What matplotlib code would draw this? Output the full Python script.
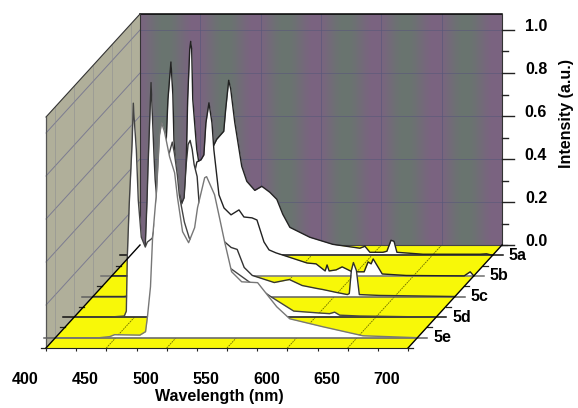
import numpy as np
import matplotlib
matplotlib.use("Agg")
import matplotlib.pyplot as plt
from matplotlib.patches import Polygon
from matplotlib.transforms import Affine2D, IdentityTransform

plt.rcParams['font.family'] = ['Liberation Sans', 'DejaVu Sans']
plt.rcParams['font.weight'] = 'bold'

# spectra
wl_5a = [400, 430, 441, 444.8, 445.6, 447.3, 449, 449.8, 450.6, 451.5, 454.8, 456.4, 461.4, 467.2, 471.4, 477.2,
         478.8, 481.3, 483, 486.3, 492.1, 496.3, 502.9, 508.7, 515.4, 521.2, 526.1, 532, 548.5, 567.6, 590, 594.2,
         598.3, 609.1, 612.4, 615.8, 618.3, 620.7, 642.3, 689.6, 695, 700]
int_5a = [0, 0, .02, .144, .307, .726, .958, .995, .958, .726, .493, .437, .4, .493, .54, .577,
          .679, .814, .772, .619, .414, .344, .302, .321, .293, .26, .191, .13, .084, .051, .033, .042,
          .014, .014, .019, .07, .065, .014, .005, .005, .007, 0]
wl_5b = [400, 430.7, 439, 442.3, 444.8, 446.5, 449, 450.6, 451.5, 454, 459.8, 465.6, 470.5, 473.9, 476.3, 478,
         480.5, 483, 484.6, 488.8, 493, 498.8, 505.4, 509.5, 516.2, 520.3, 526.1, 530.3, 536.1, 541.1, 561.8, 569.3,
         576.8, 578.4, 580.1, 585.9, 590.9, 599.2, 609.1, 612.4, 614.9, 616.6, 624.1, 644, 692, 697, 700]
int_5b = [0, 0, .005, .353, .586, .819, .995, .842, .633, .423, .298, .4, .53, .54, .563, .712,
          .805, .712, .586, .377, .316, .284, .307, .274, .27, .26, .158, .121, .107, .098, .06, .056,
          .023, .051, .023, .028, .042, .019, .019, .065, .056, .079, .009, .002, 0, .019, 0]
wl_5c = [400, 425.7, 438, 443.2, 444.8, 445.6, 447.3, 448.1, 449, 450.6, 451.5, 454.8, 458.9, 463, 469.7, 475.5,
         477.2, 478.8, 480.5, 482.2, 483.8, 486.3, 488, 492.1, 497.9, 508.7, 514.5, 519.5, 525.3, 532, 550.2, 562.7,
         573.4, 585.9, 590, 601.7, 610.8, 612.4, 614.1, 615.8, 618.3, 620.7, 637.3, 700]
int_5c = [0, 0, .01, .219, .451, .605, .87, .995, .87, .651, .544, .335, .242, .288, .381, .46,
          .614, .707, .726, .684, .614, .558, .428, .395, .335, .256, .228, .219, .135, .098, .065, .079,
          .051, .037, .033, .019, .009, .014, .121, .158, .121, .009, .005, 0]
wl_5d = [400, 429, 441.5, 443.2, 444, 445.6, 448.1, 449, 449.8, 451.5, 453.1, 455.6, 458.9, 460.6, 464.7, 470.5,
         475.5, 478.8, 481.3, 483, 485.5, 487.1, 491.3, 495.4, 507.9, 524.5, 545.2, 563.5, 581.9, 603.3, 611.6, 615.8,
         620, 636.5, 700]
int_5d = [0, 0, .005, .028, .279, .526, .823, .995, .916, .777, .544, .372, .326, .349, .367, .521,
          .707, .763, .814, .763, .66, .567, .442, .367, .321, .247, .163, .093, .028, .019, .016, .023,
          .009, .005, 0]
wl_5e = [400, 436.5, 445, 449, 470, 474.7, 476.3, 478.8, 480.5, 483.8, 486.3, 488, 490.4, 494.6, 498.8, 501.2,
         505.4, 510.4, 515.4, 517.8, 523.7, 525.3, 531.9, 536, 540.2, 546, 554.4, 567.6, 583.4, 594.2, 621.6, 654.8, 700]
int_5e = [0, 0, .005, .014, .012, .028, .098, .237, .46, .68, .944, 1, .958, .842, .767, .651,
          .493, .442, .512, .605, .744, .749, .665, .558, .447, .307, .26, .256, .144, .088, .051, .009, 0]

series_names = ['5a', '5b', '5c', '5d', '5e']
x_major = [400, 450, 500, 550, 600, 650, 700]
x_minor = [425, 475, 525, 575, 625, 675]
z_major = [0.0, 0.2, 0.4, 0.6, 0.8, 1.0]
z_minor = [0.1, 0.3, 0.5, 0.7, 0.9]

W, H = 578, 408
# front floor corner (46,348), 362 px for 300 nm, 215 px per intensity unit
fig = plt.figure(figsize=(W/100, H/100), dpi=100)
ax = fig.add_axes([46/W, (H-348)/H, 362/W, 215/H])
ax.patch.set_visible(False)

PX_NM = 362/300
DW = 94/PX_NM   # depth shift in nm
DH = 103/215    # depth shift in intensity
TOP = 1.0744

def proj(w, h, d):
  return np.asarray(w) + d*DW, np.asarray(h) + d*DH

def corners(pts):
  return np.array([proj(*p) for p in pts])

back = [(400, 0, 1), (700, 0, 1), (700, TOP, 1), (400, TOP, 1)]
left = [(400, 0, 0), (400, 0, 1), (400, TOP, 1), (400, TOP, 0)]
floor = [(400, 0, 0), (700, 0, 0), (700, 0, 1), (400, 0, 1)]

# back wall: the gif dither shows as slow magenta/green columns
xx = np.arange(W)
s = np.sin(2*np.pi*xx/60.0)*0.035
base = np.array(matplotlib.colors.to_rgb('#726c78'))
img = np.tile((base + np.c_[s, -s, s])[None, :, :], (H, 1, 1))
im = ax.imshow(np.clip(img, 0, 1), extent=(0, W, 0, H), transform=IdentityTransform(), aspect='auto',
               interpolation='nearest', zorder=1, origin='lower')
im.set_clip_box(fig.bbox)
im.set_clip_path(Polygon(corners(back), transform=ax.transData))
ax.add_patch(Polygon(corners(left), facecolor='#b0af9a', edgecolor='none', zorder=1, clip_on=False))
ax.add_patch(Polygon(corners(floor), facecolor='#f8f808', edgecolor='none', zorder=1, clip_on=False))

# wall grid
for w in x_major[1:-1]:
  ax.plot(*proj([w, w], [0, TOP], 1), color='#55557a', lw=0.7, alpha=0.6, zorder=2, clip_on=False)
  ax.plot(*proj([w, w], [0, 0], np.array([0, 1])), color='#6b6b00', lw=0.6, ls=(0, (2, 1)), zorder=2, clip_on=False)
for h in z_major[1:]:
  ax.plot(*proj([400, 700], [h, h], 1), color='#58587a', lw=0.7, alpha=0.6, zorder=2, clip_on=False)
  ax.plot(*proj([400, 400], [h, h], np.array([0, 1])), color='#66668c', lw=0.7, alpha=0.7, zorder=2, clip_on=False)
for d in [.1, .3, .5, .7, .9]:
  ax.plot(*proj([400, 400], [0, TOP], d), color='#8a8a90', lw=0.7, alpha=0.5, zorder=2, clip_on=False)

# frame
frame_kw = dict(color='#333333', lw=0.8, zorder=3, clip_on=False)
ax.plot(*proj([400, 700], [TOP, TOP], 1), color='black', lw=1.1, zorder=3, clip_on=False)
ax.plot(*proj([400, 400], [TOP, TOP], np.array([0, 1])), **frame_kw)
ax.plot(*proj([400, 400], [0, TOP], 1), **frame_kw)
ax.plot(*proj([400, 400], [0, TOP], 0), color='#555555', lw=0.9, zorder=3, clip_on=False)
ax.plot(*proj([700, 700], [0, TOP], 1), **frame_kw)

# spectra, back to front
wls = [wl_5a, wl_5b, wl_5c, wl_5d, wl_5e]
ints = [int_5a, int_5b, int_5c, int_5d, int_5e]
depths = [.9, .7, .5, .3, .1]
line_cols = ['#222222', '#222222', '#333333', '#444444', '#777777']
base_cols = ['#111111', '#707070', '#606060', '#111111', '#606060']
for i, name in enumerate(series_names):
  d = depths[i]
  xs, ys = proj(wls[i], ints[i], d)
  _, y0 = proj(400, 0, d)
  ax.fill_between(xs, y0, ys, color='white', lw=0, zorder=4+i, clip_on=False)
  # baseline runs past both floor edges as the depth tick
  ax.plot(*proj(np.array([400-11/PX_NM, 700+10/PX_NM]), [0, 0], d), color=base_cols[i], lw=1.1,
          zorder=4+i, clip_on=False)
  ax.plot(xs, ys, color=line_cols[i], lw=1.0, zorder=4+i, clip_on=False)
  tx, ty = proj(700 + 16/PX_NM, 0, d)
  ax.text(tx, ty, name, fontsize=11.5, va='center', ha='left', zorder=12, clip_on=False)

for d in [0, .2, .4, .6, .8, 1.0]:
  ax.plot(*proj(np.array([400-5/PX_NM, 400]), [0, 0], d), color='#222222', lw=0.9, zorder=3, clip_on=False)
  ax.plot(*proj(np.array([700, 700+5/PX_NM]), [0, 0], d), color='#222222', lw=0.9, zorder=3, clip_on=False)

# floor edges on top
ax.plot(*proj([400, 400], [0, 0], np.array([0, 1])), color='black', lw=1.0, zorder=10, clip_on=False)
ax.plot(*proj([700, 700], [0, 0], np.array([0, 1])), color='black', lw=1.0, zorder=10, clip_on=False)
ax.plot(*proj([700, 400], [0, 0], 1), color='#444444', lw=0.8, zorder=3, clip_on=False)

# intensity ticks on the back right edge
for h in z_major:
  x0, y0 = proj(700, h, 1)
  ax.plot([x0, x0+12/PX_NM], [y0, y0], color='#222222', lw=1.0, zorder=3, clip_on=False)
  ax.text(x0+34/PX_NM, y0+3.5/215, '%.1f' % h, fontsize=11.5, ha='center', va='center', clip_on=False)
for h in z_minor:
  x0, y0 = proj(700, h, 1)
  ax.plot([x0, x0+6/PX_NM], [y0, y0], color='#222222', lw=1.0, zorder=3, clip_on=False)

# axis itself
ax.set_xlim(400, 700)
ax.set_ylim(0, 1)
for s_name in ['top', 'left', 'right']:
  ax.spines[s_name].set_visible(False)
ax.spines['bottom'].set_color('#222222')
ax.spines['bottom'].set_zorder(11)
ax.set_yticks([])
ax.set_xticks(x_major, [str(v) for v in x_major])
ax.set_xticks(x_minor, minor=True)
ax.tick_params(axis='x', which='both', length=2.5, width=0.8, color='#222222', pad=15, labelsize=11.5)
for lab in ax.get_xticklabels():
  lab.set_transform(lab.get_transform() + Affine2D().translate(-21, 0))
ax.set_axisbelow(False)

fig.text(219/W, 1-397/H, 'Wavelength (nm)', fontsize=11.5, ha='center', va='center')
fig.text(567/W, 1-114/H, 'Intensity (a.u.)', fontsize=11.5, ha='center', va='center', rotation=90)

fig.savefig('out.png', dpi=100)
